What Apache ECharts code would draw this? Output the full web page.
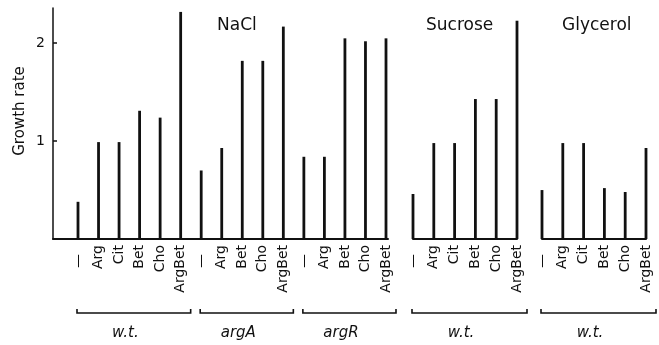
<!DOCTYPE html>
<html>
<head>
<meta charset="utf-8">
<script src="https://cdn.jsdelivr.net/npm/echarts@6/dist/echarts.min.js"></script>
<style>
  html, body { margin: 0; padding: 0; background: #fff; }
  #chart { width: 659px; height: 345px; }
</style>
</head>
<body>
<div id="chart"></div>
<script>
// NaCl panel: w.t., argA, argR strains side by side
const naclLabels = ['—', 'Arg', 'Cit', 'Bet', 'Cho', 'ArgBet',
                    '—', 'Arg', 'Bet', 'Cho', 'ArgBet',
                    '—', 'Arg', 'Bet', 'Cho', 'ArgBet'];
const naclRates = [0.38, 0.99, 0.99, 1.31, 1.24, 2.32,
                   0.70, 0.93, 1.82, 1.82, 2.17,
                   0.84, 0.84, 2.05, 2.02, 2.05];

const sucroseLabels = ['—', 'Arg', 'Cit', 'Bet', 'Cho', 'ArgBet'];
const sucroseRates = [0.46, 0.98, 0.98, 1.43, 1.43, 2.23];

const glycerolLabels = ['—', 'Arg', 'Cit', 'Bet', 'Cho', 'ArgBet'];
const glycerolRates = [0.50, 0.98, 0.98, 0.52, 0.48, 0.93];

const panelTitles = ['NaCl', 'Sucrose', 'Glycerol'];
const yTicks = [1, 2];

// strain groups under the axis: name, panel, first and last bar index
const groupNames = ['w.t.', 'argA', 'argR', 'w.t.', 'w.t.'];
const groupPanel = [0, 0, 0, 1, 2];
const groupFirst = [0, 6, 11, 0, 0];
const groupLast = [5, 10, 15, 5, 5];

const ink = '#111';
const font = 'DejaVu Sans';
const yMax = 2.36;
const gridTop = 8, gridBottom = 106;

const chartDom = document.getElementById('chart');
const myChart = echarts.init(chartDom);

function catAxis(idx, labels, showLine) {
    return {
        type: 'category',
        gridIndex: idx,
        data: labels,
        boundaryGap: false,
        axisLine: { show: showLine, lineStyle: { color: ink, width: 2 } },
        axisTick: { show: false },
        splitLine: { show: false },
        axisLabel: {
            interval: 0,
            rotate: 90,
            margin: 6,
            color: ink,
            fontFamily: font,
            fontSize: 14,
            hideOverlap: false,
            formatter: v => v === '—' ? '—  ' : v
        }
    };
}

function hiddenY(idx) {
    return {
        type: 'value', gridIndex: idx, min: 0, max: yMax,
        show: false, splitLine: { show: false }
    };
}

function barSeries(idx, values) {
    return {
        type: 'bar',
        xAxisIndex: idx,
        yAxisIndex: idx,
        data: values,
        barWidth: 2.8,
        clip: false,
        itemStyle: { color: ink },
        silent: true
    };
}

myChart.setOption({
    animation: false,
    backgroundColor: '#fff',
    title: [
        { text: panelTitles[0], left: 212, top: 12 },
        { text: panelTitles[1], left: 421, top: 12 },
        { text: panelTitles[2], left: 557, top: 12 }
    ].map(t => Object.assign(t, {
        textStyle: { fontFamily: font, fontSize: 17, fontWeight: 'normal', color: ink }
    })),
    grid: [
        { left: 53, width: 335, top: gridTop, bottom: gridBottom },
        { left: 78, width: 308, top: gridTop, bottom: gridBottom },
        { left: 413, width: 104, top: gridTop, bottom: gridBottom },
        { left: 542, width: 104, top: gridTop, bottom: gridBottom }
    ],
    xAxis: [
        {
            type: 'value', gridIndex: 0, min: 0, max: 1,
            axisLine: { show: true, lineStyle: { color: ink, width: 2 } },
            axisTick: { show: false }, axisLabel: { show: false },
            splitLine: { show: false }
        },
        catAxis(1, naclLabels, false),
        catAxis(2, sucroseLabels, true),
        catAxis(3, glycerolLabels, true)
    ],
    yAxis: [
        {
            type: 'value', gridIndex: 0, min: 0, max: yMax,
            axisLine: { show: true, lineStyle: { color: ink, width: 1.5 } },
            axisTick: {
                show: true, inside: true, length: 4, customValues: yTicks,
                lineStyle: { color: ink, width: 1.5 }
            },
            axisLabel: {
                customValues: yTicks, margin: 8, color: ink,
                fontFamily: font, fontSize: 14
            },
            splitLine: { show: false }
        },
        hiddenY(1), hiddenY(2), hiddenY(3)
    ],
    series: [
        barSeries(1, naclRates),
        barSeries(2, sucroseRates),
        barSeries(3, glycerolRates)
    ]
});

// brackets and strain names, placed from the axes
const bracketY = 313, labelY = 333;
const graphics = [{
    type: 'text', x: 20, y: 111, rotation: Math.PI / 2,
    style: {
        text: 'Growth rate', fill: ink, font: '15px "DejaVu Sans"',
        align: 'center', verticalAlign: 'middle'
    }
}];
groupNames.forEach((name, i) => {
    const axis = { xAxisIndex: groupPanel[i] + 1 };
    const xa = myChart.convertToPixel(axis, groupFirst[i]);
    const xb = myChart.convertToPixel(axis, groupLast[i]);
    graphics.push({
        type: 'polyline',
        shape: { points: [[xa - 1, bracketY - 4], [xa - 1, bracketY], [xb + 10, bracketY], [xb + 10, bracketY - 4]] },
        style: { stroke: ink, lineWidth: 1.6, fill: null }
    });
    graphics.push({
        type: 'text', x: (xa + xb) / 2 - 4, y: labelY,
        style: {
            text: name, fill: ink, font: 'italic 15px "DejaVu Sans"',
            align: 'center', verticalAlign: 'middle'
        }
    });
});
myChart.setOption({ graphic: graphics });
</script>
</body>
</html>
